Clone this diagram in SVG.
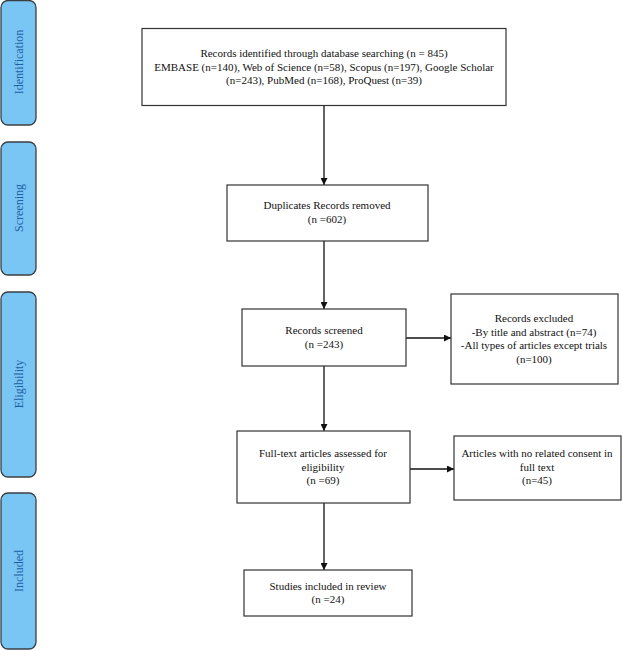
<svg xmlns="http://www.w3.org/2000/svg" width="622" height="650" viewBox="0 0 622 650">
<style>
.bar{fill:#79c6f4;stroke:#3a3f44;stroke-width:1.3}
.bt{font-family:"Liberation Serif",serif;font-size:12px;fill:#1f5fa6;text-anchor:middle}
.box{fill:#fff;stroke:#333;stroke-width:1.2}
.t{font-family:"Liberation Serif",serif;font-size:11px;fill:#111;text-anchor:middle}
.c{stroke:#111;stroke-width:1.3;fill:none;marker-end:url(#ah)}
</style>
<defs>
<marker id="ah" viewBox="0 0 10 10" refX="10" refY="5" markerWidth="7" markerHeight="7" markerUnits="userSpaceOnUse" orient="auto">
<path d="M0,0 L10,5 L0,10 z" fill="#111"/>
</marker>
</defs>
<rect width="622" height="650" fill="#fff"/>
<g id="bar-identification"><rect class="bar" x="1" y="0.5" width="35" height="124.5" rx="7"/><text class="bt" transform="translate(22.5,62) rotate(-90)">Identification</text></g>
<g id="bar-screening"><rect class="bar" x="1" y="142" width="35" height="133" rx="7"/><text class="bt" transform="translate(22.5,208) rotate(-90)">Screening</text></g>
<g id="bar-eligibility"><rect class="bar" x="1" y="292" width="35" height="185" rx="7"/><text class="bt" transform="translate(22.5,384) rotate(-90)">Eligibility</text></g>
<g id="bar-included"><rect class="bar" x="1" y="493" width="35" height="156" rx="7"/><text class="bt" transform="translate(22.5,571) rotate(-90)">Included</text></g>
<g id="connectors">
<line class="c" x1="324" y1="106" x2="324" y2="185"/>
<line class="c" x1="324" y1="241" x2="324" y2="309"/>
<line class="c" x1="406" y1="338" x2="451" y2="338"/>
<line class="c" x1="324" y1="366" x2="324" y2="431"/>
<line class="c" x1="410" y1="469" x2="454" y2="469"/>
<line class="c" x1="324" y1="503" x2="324" y2="570"/>
</g>
<g id="n1"><rect class="box" x="142" y="28.5" width="364" height="77"/>
<text class="t" x="324" y="57">Records identified through database searching (n = 845)</text>
<text class="t" x="324" y="70.5">EMBASE (n=140), Web of Science (n=58), Scopus (n=197), Google Scholar</text>
<text class="t" x="324" y="84">(n=243), PubMed (n=168), ProQuest (n=39)</text></g>
<g id="n2"><rect class="box" x="227" y="185" width="201" height="56"/>
<text class="t" x="327" y="209">Duplicates Records removed</text>
<text class="t" x="327" y="222.5">(n =602)</text></g>
<g id="n3"><rect class="box" x="242" y="309" width="164" height="57"/>
<text class="t" x="324" y="334">Records screened</text>
<text class="t" x="324" y="347.5">(n =243)</text></g>
<g id="n4"><rect class="box" x="451" y="294" width="167" height="90"/>
<text class="t" x="534" y="322">Records excluded</text>
<text class="t" x="534" y="335.5">-By title and abstract (n=74)</text>
<text class="t" x="534" y="349">-All types of articles except trials</text>
<text class="t" x="534" y="362.5">(n=100)</text></g>
<g id="n5"><rect class="box" x="237" y="431" width="173" height="72"/>
<text class="t" x="323" y="457">Full-text articles assessed for</text>
<text class="t" x="323" y="470.5">eligibility</text>
<text class="t" x="323" y="484">(n =69)</text></g>
<g id="n6"><rect class="box" x="454" y="436" width="167" height="64"/>
<text class="t" x="537" y="457">Articles with no related consent in</text>
<text class="t" x="537" y="470.5">full text</text>
<text class="t" x="537" y="484">(n=45)</text></g>
<g id="n7"><rect class="box" x="244" y="570" width="168" height="46"/>
<text class="t" x="328" y="589.5">Studies included in review</text>
<text class="t" x="328" y="603">(n =24)</text></g>
</svg>
